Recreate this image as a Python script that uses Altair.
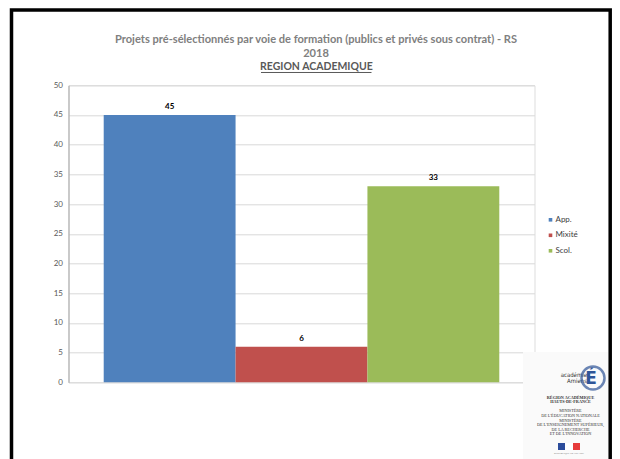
import altair as alt
import pandas as pd

# ---- data ----
series = ["App.", "Mixité", "Scol."]
values = [45, 6, 33]
colors = ["#4F81BD", "#C0504D", "#9BBB59"]
y_ticks = [0, 5, 10, 15, 20, 25, 30, 35, 40, 45, 50]

title_line1 = "Projets pré-sélectionnés par voie de formation (publics et privés sous contrat) - RS"
title_line2 = "2018"
subtitle = "REGION ACADEMIQUE"

df = pd.DataFrame({"serie": series, "valeur": values})

FONT = "Lato"
OX, OY = 68.5, 85.3  # plot origin on the page (used only for decoration)

base = alt.Chart(df)

x_enc = alt.X("serie:N", sort=series, axis=None,
              scale=alt.Scale(paddingInner=0, paddingOuter=0.267))
y_enc = alt.Y("valeur:Q",
              scale=alt.Scale(domain=[0, 50], nice=False),
              axis=alt.Axis(values=y_ticks, title=None, grid=True, gridColor="#D9D9D9",
                            domainColor="#A6A6A6", ticks=False, labelFontSize=8,
                            labelColor="#595959", labelFont=FONT, labelPadding=6,
                            labelOverlap=False))

bars = base.mark_bar().encode(
    x=x_enc, y=y_enc,
    color=alt.Color("serie:N", sort=series,
                    scale=alt.Scale(domain=series, range=colors),
                    legend=alt.Legend(title=None, orient="none", legendX=478, legendY=130.5,
                                      padding=0, symbolType="square", symbolSize=13,
                                      symbolStrokeWidth=0, labelFontSize=8, labelFont=FONT,
                                      labelColor="#404040", labelOffset=1, rowPadding=7.5)),
)

labels = base.mark_text(baseline="middle", dy=-8, fontSize=8, fontWeight="bold",
                        font=FONT, color="#000000").encode(
    x=x_enc, y=y_enc, text="valeur:Q")

one = pd.DataFrame({"d": [0]})


def deco_text(txt, px, py, size, color="#404040", font="Liberation Serif", weight="normal", align="center"):
    return alt.Chart(one).mark_text(text=txt, fontSize=size, font=font, fontWeight=weight,
                                    color=color, align=align, baseline="middle").encode(
        x=alt.value(px - OX), y=alt.value(py - OY))


def deco_rect(x1, y1, x2, y2, fill):
    return alt.Chart(one).mark_rect(fill=fill, strokeWidth=0).encode(
        x=alt.value(x1 - OX), x2=alt.value(x2 - OX), y=alt.value(y1 - OY), y2=alt.value(y2 - OY))


# title (three centred lines, the last one underlined)
t1 = deco_text(title_line1, 316, 40.5, 11.1, color="#808080", font=FONT, weight="bold")
t2 = deco_text(title_line2, 316, 54.5, 11.1, color="#808080", font=FONT, weight="bold")
t3 = deco_text(subtitle, 316.4, 67.5, 10.5, color="#595959", font=FONT, weight="bold")
underline = alt.Chart(one).mark_rule(color="#595959", strokeWidth=1).encode(
    x=alt.value(261 - OX), x2=alt.value(371.5 - OX), y=alt.value(72.5 - OY))

frame = alt.Chart(one).mark_rect(fill=None, stroke="#000000", strokeWidth=3.5).encode(
    x=alt.value(11.5 - OX), x2=alt.value(610.2 - OX), y=alt.value(10 - OY), y2=alt.value(490 - OY))

logo_bg = deco_rect(523, 352, 608, 470, "#FAFAFA")
ring = alt.Chart(one).mark_point(shape="circle", size=530, filled=False, stroke="#2F5597",
                                 strokeWidth=2.5).encode(
    x=alt.value(593 - OX), y=alt.value(378 - OY))
acad1 = deco_text("académie", 587, 375.3, 6, color="#333333", font="DejaVu Sans Condensed", align="right")
acad2 = deco_text("Amiens", 587, 381.5, 6, color="#333333", font="DejaVu Sans Condensed", align="right")
big_e = deco_text("É", 591, 379, 17, color="#2F5597", font="DejaVu Sans", weight="bold")

small_lines = [
    ("RÉGION ACADÉMIQUE", 397.7, "bold"),
    ("HAUTS-DE-FRANCE", 402, "bold"),
    ("MINISTÈRE", 410.7, "normal"),
    ("DE L'ÉDUCATION NATIONALE", 415.7, "normal"),
    ("MINISTÈRE", 421, "normal"),
    ("DE L'ENSEIGNEMENT SUPÉRIEUR,", 425.3, "normal"),
    ("DE LA RECHERCHE", 430, "normal"),
    ("ET DE L'INNOVATION", 434.3, "normal"),
]
small = [deco_text(t, 570.5, yy, 4.2, color="#333333", weight=w) for t, yy, w in small_lines]

flag = [
    deco_rect(558, 443, 565, 450, "#2B4C9B"),
    deco_rect(565, 443, 573, 450, "#FFFFFF"),
    deco_rect(573, 443, 580, 450, "#E63B3B"),
]
flag_txt = deco_text("RÉPUBLIQUE FRANÇAISE", 569, 453, 2.5, color="#555555")

chart = alt.layer(
    logo_bg, bars, labels, t1, t2, t3, underline, acad1, acad2, ring, big_e,
    *small, *flag, flag_txt, frame
).properties(
    width=466, height=297,
    autosize=alt.AutoSizeParams(type="none"),
    padding={"left": 60.5, "top": 77.3, "right": 77.5, "bottom": 85},
).configure_view(stroke=None).configure(background="#FFFFFF")

chart.save("out.html", embed_options={"renderer": "svg", "actions": False})
